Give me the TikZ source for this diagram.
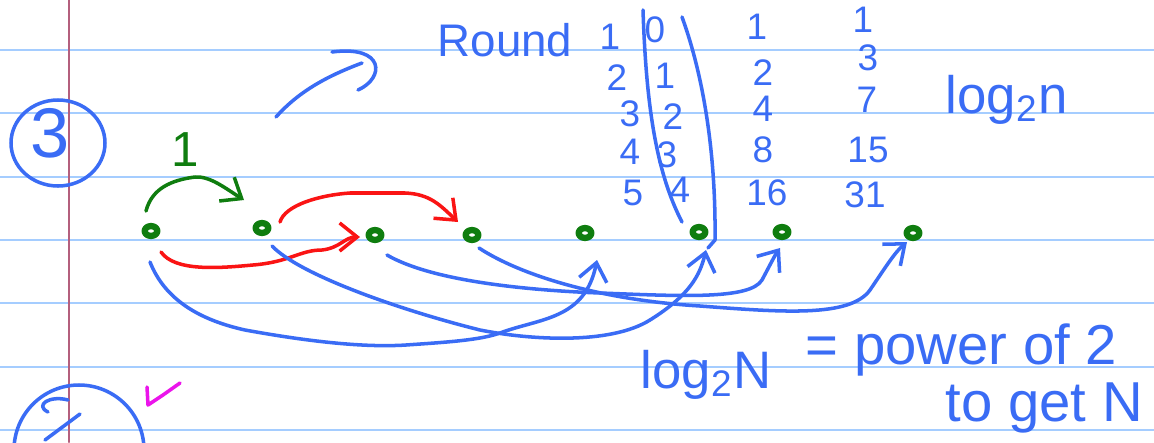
\documentclass[tikz,border=0pt]{standalone}
\usepackage{fontspec}
\setmainfont{Liberation Sans}
\usetikzlibrary{arrows.meta,shapes.geometric}
\definecolor{penblue}{RGB}{58,108,245}
\definecolor{pengreen}{RGB}{15,125,15}
\definecolor{penred}{RGB}{250,20,20}
\definecolor{penpink}{RGB}{235,20,235}
\definecolor{ruleblue}{RGB}{165,205,255}
\definecolor{marginred}{RGB}{180,95,125}

\begin{document}
\begin{tikzpicture}[x=0.01cm,y=-0.01cm,line join=round,line cap=round,
        pen/.style={line width=1pt},
        dot/.style={ellipse,draw=pengreen,fill=white,line width=1.8pt,inner sep=0pt,minimum width=3.6pt,minimum height=2.8pt},
        hand/.style={text=penblue,font=\fontsize{10.5}{10.5}\selectfont,inner sep=0pt},
        barb/.style={-{Straight Barb[length=5pt,width=8pt]}}] %log2 rounds on lined paper
         \useasboundingbox (0,0) rectangle (1154,442);
         \fill[white] (0,0) rectangle (1154,442);
         \foreach \y in {50,113,177,240,303,367,430}
                \draw[ruleblue,line width=0.6pt] (0,\y) -- (1154,\y);
         \draw[marginred,line width=0.7pt] (69,0) -- (69,442);
         % section marks
         \node[hand,font=\fontsize{20}{20}\selectfont] (three) at (50,133) {3};
         \draw[penblue,pen] (58,143) ellipse [x radius=47,y radius=43];
         \draw[penblue,pen] (79,450) circle [radius=65];
         \draw[penblue,pen] (48,412) .. controls (34,405) and (50,395) .. (68,400);
         \draw[penblue,pen] (45,440) -- (80,414);
         \draw[penpink,pen] (147,387) -- (148,405) -- (163,395) -- (180,383);
         \draw[penblue,pen] (276,117) .. controls (300,90) and (330,75) .. (362,63);
         \draw[penblue,pen] (332,52) .. controls (385,45) and (385,78) .. (358,90);
         % table
         \node[hand,anchor=base west,font=\fontsize{13}{13}\selectfont] (round) at (437,56) {Round};
         \foreach \t/\x/\y [count=\i] in {1/610/37,2/617/78,3/630/114,4/630/152,5/633/193}
                \node[hand] (r\i) at (\x,\y) {\t};
         \foreach \t/\x/\y [count=\i] in {0/655/30,1/665/76,2/673/117,3/667/155,4/680/190}
                \node[hand] (e\i) at (\x,\y) {\t};
         \foreach \t/\x/\y [count=\i] in {1/757/27,2/763/73,4/763/109,8/763/150,16/767/193}
                \node[hand] (p\i) at (\x,\y) {\t};
         \foreach \t/\x/\y [count=\i] in {1/863/20,3/868/58,7/867/100,15/868/150,31/865/195}
                \node[hand] (s\i) at (\x,\y) {\t};
         \node[hand,anchor=base west,font=\fontsize{15}{15}\selectfont] (logn) at (945,113) {log\textsubscript{2}n};
         % nodes
         \foreach \x/\y [count=\i] in {151/231,262/228,375/235,472/235,585/233,699/232,782/232,913/233}
                \node[dot] (n\i) at (\x,\y) {};
         \draw[penblue,pen] (643,10) .. controls (646,100) and (655,170) .. ([shift={(-17,-10)}]n6.center);
         \draw[penblue,pen] (682,17) .. controls (705,80) and (716,160) .. (715,240) -- (708,248);
         % round 1
         \node[text=pengreen,font=\fontsize{14}{14}\selectfont] (one) at (185,150) {1};
         \draw[pengreen,pen,barb] ([shift={(-5,-20)}]n1.center) .. controls (152,188) and (172,180) .. (195,177)
                .. controls (210,176) and (225,188) .. ([shift={(-18,-28)}]n2.center);
         % round 2
         \draw[penred,pen,barb] ([shift={(18,-6)}]n2.center) .. controls (285,205) and (320,195) .. (350,193)
                -- (405,193) .. controls (430,194) and (440,205) .. ([shift={(-14,-13)}]n4.center);
         \draw[penred,pen,barb] ([shift={(10,21)}]n1.center) .. controls (175,272) and (220,268) .. (253,265)
                .. controls (290,262) and (300,250) .. (322,250) .. controls (340,248) and (345,237) .. ([shift={(-15,2)}]n3.center);
         % round 3
         \draw[penblue,pen,barb] ([shift={(-1,31)}]n1.center) .. controls (165,300) and (200,320) .. (245,330)
                .. controls (300,340) and (360,348) .. (406,345) .. controls (450,342) and (480,340) .. (500,333)
                .. controls (540,318) and (585,320) .. ([shift={(12,27)}]n5.center);
         \draw[penblue,pen,barb] ([shift={(10,18)}]n2.center) .. controls (300,275) and (400,310) .. (480,330)
                .. controls (530,340) and (610,345) .. (650,320) .. controls (690,295) and (700,275) .. ([shift={(7,18)}]n6.center);
         \draw[penblue,pen,barb] ([shift={(12,20)}]n3.center) .. controls (430,280) and (520,290) .. (600,293)
                .. controls (680,296) and (750,300) .. (762,280) .. controls (770,265) and (775,255) .. ([shift={(-2,16)}]n7.center);
         \draw[penblue,pen,barb] ([shift={(7,13)}]n4.center) .. controls (520,275) and (600,300) .. (700,306)
                .. controls (780,312) and (850,318) .. (870,290) .. controls (885,268) and (895,252) .. ([shift={(-6,9)}]n8.center);
         % note
         \node[hand,anchor=base west,font=\fontsize{15}{15}\selectfont] (logN) at (640,388) {log\textsubscript{2}N};
         \node[hand,anchor=base west,font=\fontsize{16}{16}\selectfont] (power) at (805,364) {= power of 2};
         \node[hand,anchor=base west,font=\fontsize{16}{16}\selectfont] (toget) at (945,421) {to get N};
\end{tikzpicture}
\end{document}
